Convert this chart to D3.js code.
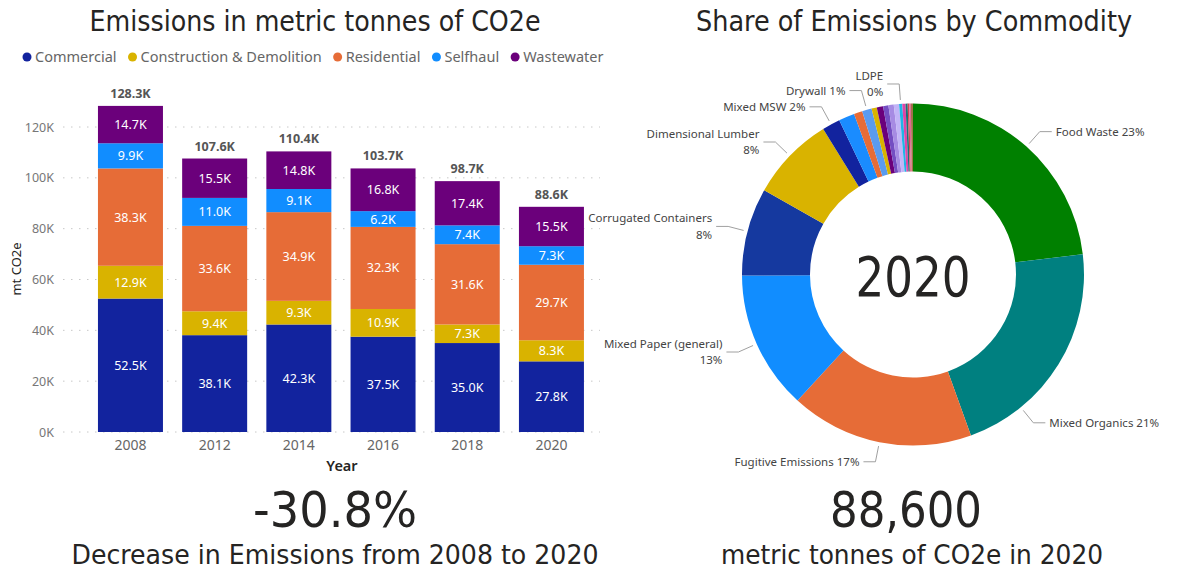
<!DOCTYPE html>
<html>
<head>
<meta charset="utf-8">
<script src="https://cdn.jsdelivr.net/npm/d3@7"></script>
<style>
  html, body { margin: 0; padding: 0; background: #fff; }
  svg { display: block; }
  .ui  { font-family: "Segoe UI", "Noto Sans", "Open Sans", sans-serif; }
  .din { font-family: "Liberation Sans Narrow", "DejaVu Sans Condensed", sans-serif; }
</style>
</head>
<body>
<svg id="chart" width="1188" height="571"></svg>
<script>
// ---- Emissions by sector (thousand metric tonnes CO2e) ----
const years = ["2008", "2012", "2014", "2016", "2018", "2020"];
const sectors = ["Commercial", "Construction & Demolition", "Residential", "Selfhaul", "Wastewater"];
const commercial = [52.5, 38.1, 42.3, 37.5, 35.0, 27.8];
const constructionDemolition = [12.9, 9.4, 9.3, 10.9, 7.3, 8.3];
const residential = [38.3, 33.6, 34.9, 32.3, 31.6, 29.7];
const selfhaul = [9.9, 11.0, 9.1, 6.2, 7.4, 7.3];
const wastewater = [14.7, 15.5, 14.8, 16.8, 17.4, 15.5];
const yTicks = [0, 20, 40, 60, 80, 100, 120];
const sectorColors = ["#12239E", "#D9B300", "#E66C37", "#118DFF", "#6B007B"];

// ---- 2020 share of emissions by commodity (%) ----
const commodities = [
  "Food Waste", "Mixed Organics", "Fugitive Emissions", "Mixed Paper (general)",
  "Corrugated Containers", "Dimensional Lumber", "Mixed MSW", "Other commodity 1",
  "Other commodity 2", "Drywall", "Other commodity 3", "Other commodity 4",
  "Other commodity 5", "Other commodity 6", "Other commodity 7", "LDPE",
  "Other commodity 8", "Other commodity 9", "Other commodity 10", "Other commodity 11",
  "Other commodity 12"
];
const commodityShare = [
  23.1, 21.4, 17.3, 13.1,
  8.3, 8.0, 1.7, 1.5,
  0.8, 0.9, 0.5, 0.6,
  0.5, 0.5, 0.5, 0.3,
  0.3, 0.2, 0.15, 0.15,
  0.2
];
const commodityColors = [
  "#008000", "#008080", "#E66C37", "#118DFF",
  "#15399F", "#D9B300", "#12239E", "#1A8CFF",
  "#E66C37", "#5A9BEF", "#D9B300", "#6B007B",
  "#744EC2", "#A68BE3", "#C2B4F7", "#1FB5E6",
  "#E044A7", "#197278", "#D64550", "#DB6A94",
  "#A0714A"
];
const kpiChange = "-30.8%";

const svg = d3.select("#chart");
const ink = "#252423";

// ================= Stacked column chart =================
const rows = years.map((yr, i) => ({
  year: yr,
  "Commercial": commercial[i],
  "Construction & Demolition": constructionDemolition[i],
  "Residential": residential[i],
  "Selfhaul": selfhaul[i],
  "Wastewater": wastewater[i]
}));
const totals = rows.map(r => d3.sum(sectors, k => r[k]));

const x = d3.scaleBand().domain(years).range([72.7, 609.2]).paddingInner(0.228).paddingOuter(0.3);
const y = d3.scaleLinear().domain([0, 120]).range([432, 127]);
const color = d3.scaleOrdinal().domain(sectors).range(sectorColors);

// dotted gridlines
svg.append("g").selectAll("line").data(yTicks).join("line")
  .attr("x1", 63).attr("x2", 600)
  .attr("y1", d => y(d)).attr("y2", d => y(d))
  .attr("stroke", "#c8c8c8").attr("stroke-width", 1)
  .attr("stroke-dasharray", "1.5,6.5");

const yAxis = svg.append("g").attr("transform", "translate(60,0)")
  .call(d3.axisLeft(y).tickValues(yTicks).tickSize(0).tickPadding(6).tickFormat(d => d + "K"));
yAxis.select(".domain").remove();
yAxis.selectAll("text").attr("class", "ui").attr("font-size", 12.5).attr("fill", "#777");

const xAxis = svg.append("g").attr("transform", "translate(0,432)")
  .call(d3.axisBottom(x).tickSize(0).tickPadding(8));
xAxis.select(".domain").remove();
xAxis.selectAll("text").attr("class", "ui").attr("font-size", 14).attr("fill", "#666");

svg.append("text").attr("class", "ui")
  .attr("x", 342).attr("y", 471).attr("text-anchor", "middle")
  .attr("font-size", 14.5).attr("font-weight", 600).attr("fill", ink).text("Year");

svg.append("text").attr("class", "ui")
  .attr("transform", "translate(21,269) rotate(-90)").attr("text-anchor", "middle")
  .attr("font-size", 13).attr("fill", ink).text("mt CO2e");

const series = d3.stack().keys(sectors)(rows);
const layer = svg.append("g").selectAll("g").data(series).join("g")
  .attr("fill", d => color(d.key));
layer.selectAll("rect").data(d => d).join("rect")
  .attr("x", d => x(d.data.year))
  .attr("width", x.bandwidth())
  .attr("y", d => y(d[1]))
  .attr("height", d => y(d[0]) - y(d[1]));

// segment value labels
layer.selectAll("text").data(d => d).join("text").attr("class", "ui")
  .attr("x", d => x(d.data.year) + x.bandwidth() / 2)
  .attr("y", d => (y(d[0]) + y(d[1])) / 2)
  .attr("dy", "0.36em").attr("text-anchor", "middle")
  .attr("font-size", 12.5).attr("fill", "#fff")
  .text(d => d3.format(".1f")(d[1] - d[0]) + "K");

// totals above each column
svg.append("g").selectAll("text").data(rows).join("text").attr("class", "ui")
  .attr("x", d => x(d.year) + x.bandwidth() / 2)
  .attr("y", (d, i) => y(totals[i]) - 8)
  .attr("text-anchor", "middle").attr("font-size", 12.5).attr("font-weight", 700)
  .attr("fill", "#555")
  .text((d, i) => d3.format(".1f")(totals[i]) + "K");

// legend
const legend = svg.append("g").attr("transform", "translate(0,57)");
let lx = 27;
sectors.forEach((s, i) => {
  legend.append("circle").attr("cx", lx).attr("cy", 0).attr("r", 4.5).attr("fill", sectorColors[i]);
  const t = legend.append("text").attr("class", "ui").attr("x", lx + 8).attr("y", 0).attr("dy", "0.35em")
    .attr("font-size", 14.5).attr("fill", "#666").text(s);
  lx = lx + 8 + t.node().getComputedTextLength() + 16;
});

// titles
svg.append("text").attr("class", "din").attr("x", 315).attr("y", 31).attr("text-anchor", "middle")
  .attr("font-size", 29).attr("fill", ink)
  .attr("textLength", 451).attr("lengthAdjust", "spacingAndGlyphs")
  .text("Emissions in metric tonnes of CO2e");
svg.append("text").attr("class", "din").attr("x", 914).attr("y", 31).attr("text-anchor", "middle")
  .attr("font-size", 29).attr("fill", ink)
  .attr("textLength", 436).attr("lengthAdjust", "spacingAndGlyphs")
  .text("Share of Emissions by Commodity");

// ================= Donut chart =================
const cx = 913, cy = 274.5, rOuter = 171, rInner = 103;
const pie = d3.pie().sort(null).value(d => d)(commodityShare);
const arc = d3.arc().innerRadius(rInner).outerRadius(rOuter);
const totalShare = d3.sum(commodityShare);

const donut = svg.append("g").attr("transform", `translate(${cx},${cy})`);
donut.selectAll("path").data(pie).join("path")
  .attr("d", arc).attr("fill", (d, i) => commodityColors[i]);

donut.append("text").attr("class", "din").attr("x", 0).attr("y", 21)
  .attr("text-anchor", "middle").attr("font-size", 56).attr("fill", ink)
  .attr("textLength", 115).attr("lengthAdjust", "spacingAndGlyphs")
  .text(years[years.length - 1]);

// leader-line labels
const labelSpec = [
  { name: "Food Waste", frac: 0.5 },
  { name: "Mixed Organics", frac: 0.75 },
  { name: "Fugitive Emissions" },
  { name: "Mixed Paper (general)", wrap: true },
  { name: "Corrugated Containers", wrap: true },
  { name: "Dimensional Lumber", wrap: true },
  { name: "Mixed MSW" },
  { name: "Drywall" },
  { name: "LDPE", wrap: true }
];
const pt = (a, r) => [r * Math.sin(a), -r * Math.cos(a)];
const labels = donut.append("g");
labelSpec.forEach(spec => {
  const i = commodities.indexOf(spec.name);
  const d = pie[i];
  const f = spec.frac == null ? 0.5 : spec.frac;
  const a = d.startAngle + (d.endAngle - d.startAngle) * f;
  const side = Math.sin(a) >= 0 ? 1 : -1;
  const p1 = pt(a, rOuter + 4);
  const p2 = pt(a, 191);
  const p3 = [p2[0] + side * 12, p2[1]];
  labels.append("polyline")
    .attr("points", [p1, p2, p3].map(p => p.join(",")).join(" "))
    .attr("fill", "none").attr("stroke", "#a0a0a0").attr("stroke-width", 1);
  const pct = Math.round(commodityShare[i] / totalShare * 100) + "%";
  const t = labels.append("text").attr("class", "ui")
    .attr("x", p3[0] + side * 4).attr("y", p3[1])
    .attr("text-anchor", side > 0 ? "start" : "end")
    .attr("font-size", 11.5).attr("fill", "#444");
  if (spec.wrap) {
    t.append("tspan").attr("x", p3[0] + side * 4).attr("dy", "-0.35em").text(spec.name);
    t.append("tspan").attr("x", p3[0] + side * 4).attr("dy", "1.4em").text(pct);
  } else {
    t.attr("dy", "0.35em").text(spec.name + " " + pct);
  }
});

// ================= KPI cards =================
svg.append("text").attr("class", "din").attr("x", 335).attr("y", 527).attr("text-anchor", "middle")
  .attr("font-size", 50).attr("fill", ink)
  .attr("textLength", 164).attr("lengthAdjust", "spacingAndGlyphs")
  .text(kpiChange);
svg.append("text").attr("class", "din").attr("x", 335).attr("y", 564).attr("text-anchor", "middle")
  .attr("font-size", 26).attr("fill", ink)
  .attr("textLength", 527).attr("lengthAdjust", "spacingAndGlyphs")
  .text(`Decrease in Emissions from ${years[0]} to ${years[years.length - 1]}`);
svg.append("text").attr("class", "din").attr("x", 906).attr("y", 527).attr("text-anchor", "middle")
  .attr("font-size", 50).attr("fill", ink)
  .attr("textLength", 152).attr("lengthAdjust", "spacingAndGlyphs")
  .text(d3.format(",")(Math.round(totals[totals.length - 1] * 1000)));
svg.append("text").attr("class", "din").attr("x", 912).attr("y", 564).attr("text-anchor", "middle")
  .attr("font-size", 26).attr("fill", ink)
  .attr("textLength", 382).attr("lengthAdjust", "spacingAndGlyphs")
  .text(`metric tonnes of CO2e in ${years[years.length - 1]}`);
</script>
</body>
</html>
